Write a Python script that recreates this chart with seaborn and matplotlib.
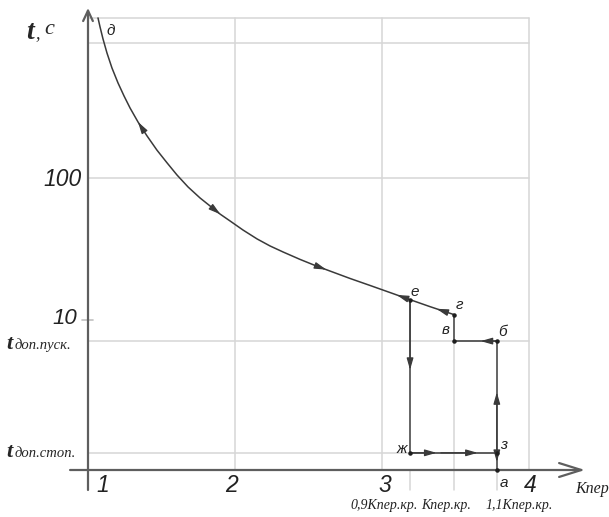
import numpy as np
import pandas as pd
import matplotlib
matplotlib.use('Agg')
import matplotlib.pyplot as plt
import seaborn as sns

# curve д -> г  (Kпер, t in seconds)
k_curve = [1.068, 1.082, 1.102, 1.129, 1.163, 1.204, 1.245, 1.286, 1.340, 1.401,
           1.469, 1.537, 1.605, 1.680, 1.762, 1.830, 1.898, 1.966, 2.054, 2.150,
           2.238, 2.327, 2.442, 2.544, 2.626, 2.782, 2.918, 3.054, 3.190, 3.327, 3.490]
t_curve = [1340, 1156, 953, 759, 595, 467, 378, 311, 248, 198,
           157, 128, 105, 86.5, 72.3, 63.5, 55.7, 49.8, 43.0, 37.2,
           33.2, 30.1, 26.7, 24.2, 22.5, 19.6, 17.5, 15.6, 13.9, 12.4, 10.9]

k_09 = 3.19    # 0,9 Kпер.кр.
k_kr = 3.49    # Kпер.кр.
k_11 = 3.78    # 1,1 Kпер.кр.
t_pusk = 7.1   # t доп.пуск.
t_stop = 1.16  # t доп.стоп.
t_e = 13.9
t_g = 10.9
t_axis = 0.878

grid_k = [2, 3, 4]
grid_t = [1340, 890, 100]
xtick_labels = ['1', '2', '3', '4']

sns.set_style('white')
plt.rcParams['font.family'] = ['Liberation Sans', 'DejaVu Sans']

W, H = 609, 517
fig = plt.figure(figsize=(W / 100, H / 100), dpi=100)
ax = fig.add_axes([88 / W, 47 / H, 500 / W, 462 / H])
ax.set_yscale('log')
ax.set_xlim(1.0, 4.40)
ax.set_ylim(t_axis, 1574)
ax.axis('off')

gc = '#d6d6d6'
lc = '#3a3a3a'
ac = '#5e5e5e'

# light grid
for k in grid_k:
    ax.plot([k, k], [t_axis, grid_t[0]], color=gc, lw=1.1, zorder=1)
for t in grid_t:
    ax.plot([1, 4], [t, t], color=gc, lw=1.1, zorder=1)
ax.plot([1, 4], [t_pusk, t_pusk], color=gc, lw=1.1, zorder=1)
ax.plot([1, k_11], [t_stop, t_stop], color=gc, lw=1.1, zorder=1)
ax.plot([k_kr, k_kr], [0.635, t_pusk], color=gc, lw=1.1, zorder=1, clip_on=False)
for k in [k_09, k_11]:
    ax.plot([k, k], [0.635, t_axis], color=gc, lw=1.1, zorder=1, clip_on=False)
ax.plot([0.96, 1.034], [10, 10], color='#c0c0c0', lw=1.2, clip_on=False)

# axes with arrows
ax.annotate('', xy=(4.38, t_axis), xytext=(0.878, t_axis),
            arrowprops=dict(arrowstyle='->,head_length=1.6,head_width=0.5', color=ac,
                            lw=1.6, shrinkA=0, shrinkB=0, mutation_scale=10),
            annotation_clip=False, zorder=3)
ax.annotate('', xy=(1.0, 1574), xytext=(1.0, 0.635),
            arrowprops=dict(arrowstyle='->,head_length=0.75,head_width=0.35', color=ac,
                            lw=1.6, shrinkA=0, shrinkB=0, mutation_scale=10),
            annotation_clip=False, zorder=3)

# curve
sns.lineplot(x=k_curve, y=t_curve, sort=False, color=lc, lw=1.1, ax=ax, zorder=4)

# loop а-б-в-г and е-ж-з
ax.plot([k_kr, k_kr, k_11, k_11], [t_g, t_pusk, t_pusk, t_axis], color=lc, lw=1.1, zorder=4)
ax.plot([k_09, k_09, k_11], [t_e, t_stop, t_stop], color=lc, lw=1.1, zorder=4)

def arrow(x0, y0, x1, y1):
    ax.annotate('', xy=(x1, y1), xytext=(x0, y0),
                arrowprops=dict(arrowstyle='-|>,head_length=0.7,head_width=0.2', color=lc,
                                lw=0.9, shrinkA=0, shrinkB=0, mutation_scale=10),
                zorder=5)

logt = np.log10(t_curve)
for k, d in [(1.34, -1), (1.90, 1), (2.62, 1), (3.10, -1), (3.37, -1)]:
    k0 = k - d * 0.03
    arrow(k0, 10 ** np.interp(k0, k_curve, logt), k, 10 ** np.interp(k, k_curve, logt))
arrow(k_11, t_pusk, 3.67, t_pusk)
arrow(k_11, t_stop, k_11, 3.1)
arrow(k_09, t_e, k_09, 4.45)
arrow(k_09, t_stop, 3.37, t_stop)
arrow(3.40, t_stop, 3.65, t_stop)
arrow(k_11, t_stop, k_11, 1.0)

pts = pd.DataFrame({
    'k': [k_09, k_kr, k_kr, k_11, k_11, k_09, k_11, k_curve[0]],
    't': [t_e, t_g, t_pusk, t_pusk, t_stop, t_stop, t_axis, t_curve[0]],
    'name': ['е', 'г', 'в', 'б', 'з', 'ж', 'а', 'д'],
    'dx': [5, 5, -8, 6, 7, -8, 7, 13],
    'dy': [8, 10, 11, 9, 8, 4, -13, -13],
})
ax.scatter(pts['k'][:7], pts['t'][:7], s=5, color='#1e1e1e', zorder=6, clip_on=False)
for _, r in pts.iterrows():
    ax.annotate(r['name'], (r['k'], r['t']), xytext=(r['dx'], r['dy']), textcoords='offset pixels',
                ha='center', va='center', fontsize=11, style='italic', color='#222',
                annotation_clip=False)

def ftext(x, y, s, **kw):
    fig.text(x / W, 1 - y / H, s, **kw)

serif = ['Liberation Serif', 'DejaVu Serif']
ftext(26, 39, 't', family=serif, weight='bold', style='italic', fontsize=20, va='baseline')
ftext(35, 38, ',', family=serif, style='italic', fontsize=13, va='baseline')
ftext(44, 34, 'c', family=serif, style='italic', fontsize=16, va='baseline')

ftext(82, 179, '100', ha='right', va='center', fontsize=16.5, style='italic', color='#222')
ftext(77, 318, '10', ha='right', va='center', fontsize=16, style='italic', color='#222')
for y, s in [(349, 'доп.пуск.'), (457, 'доп.стоп.')]:
    ftext(6, y, 't', family=serif, weight='bold', style='italic', fontsize=16, va='baseline')
    ftext(15, y, s, family=serif, style='italic', fontsize=10.5, va='baseline')

for x, s in zip([103, 232, 385, 530], xtick_labels):
    ftext(x, 492, s, ha='center', va='baseline', fontsize=16.5, style='italic', color='#222')
ftext(575, 493, 'Кпер', family=serif, ha='left', va='baseline', fontsize=11.5,
      style='italic', color='#222')
for x, s in [(350, '0,9Кпер.кр.'), (421, 'Кпер.кр.'), (485, '1,1Кпер.кр.')]:
    ftext(x, 509, s, family=serif, ha='left', va='baseline', fontsize=10,
          style='italic', color='#222')

fig.savefig('out.png', dpi=100)
